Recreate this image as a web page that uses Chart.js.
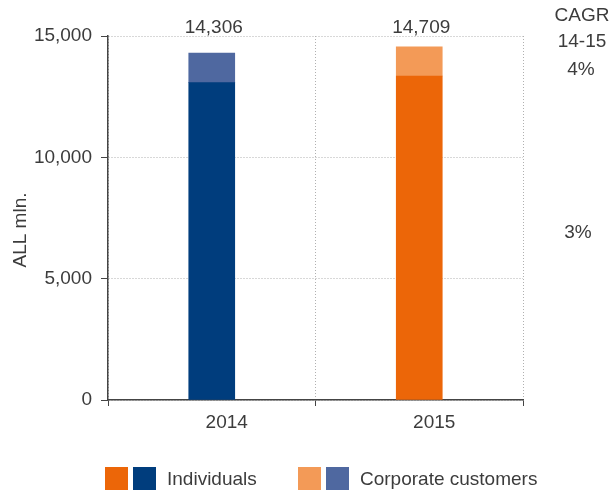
<!DOCTYPE html>
<html>
<head>
<meta charset="utf-8">
<script src="https://cdn.jsdelivr.net/npm/chart.js@4/dist/chart.umd.min.js"></script>
<style>
  html, body { margin: 0; padding: 0; background: #fff; }
  #wrap { width: 615px; height: 493px; position: relative; }
</style>
</head>
<body>
<div id="wrap"><canvas id="c" width="615" height="493"></canvas></div>
<script>
// ---- data ----
const years = ['2014', '2015'];
const individuals = [13076, 13350];
const corporate = [1225, 1200];
const totalLabels = ['14,306', '14,709'];
const yTicks = [0, 5000, 10000, 15000];
const cagrHeader = ['CAGR', '14-15'];
const cagrCorporate = '4%';
const cagrIndividuals = '3%';
const seriesNames = ['Individuals', 'Corporate customers'];

// ---- styles ----
const FONT = '"Liberation Sans", Arial, sans-serif';
const FS = 19;
const TEXT = '#3c3c3c';
const indColors = ['#003d7d', '#ec6608'];
const corpColors = ['#4f68a0', '#f39a57'];

const overlay = {
  id: 'overlay',
  afterDraw(chart) {
    const ctx = chart.ctx;
    ctx.save();
    ctx.fillStyle = TEXT;
    ctx.font = FS + 'px ' + FONT;
    // totals above bars
    ctx.textAlign = 'center';
    ctx.textBaseline = 'alphabetic';
    const meta = chart.getDatasetMeta(1);
    meta.data.forEach((bar, i) => {
      ctx.fillText(totalLabels[i], bar.x + 2, 33);
    });
    // CAGR column
    ctx.fillText(cagrHeader[0], 582, 21);
    ctx.fillText(cagrHeader[1], 582, 47);
    ctx.fillText(cagrCorporate, 581, 75);
    ctx.fillText(cagrIndividuals, 578, 238);
    // y axis title
    ctx.save();
    ctx.translate(26, 230);
    ctx.rotate(-Math.PI / 2);
    ctx.fillText('ALL mln.', 0, 0);
    ctx.restore();
    // legend
    ctx.textAlign = 'left';
    ctx.textBaseline = 'middle';
    const items = [
      {x: 105, colors: [indColors[1], indColors[0]], label: seriesNames[0]},
      {x: 298, colors: [corpColors[1], corpColors[0]], label: seriesNames[1]}
    ];
    items.forEach(it => {
      ctx.fillStyle = it.colors[0];
      ctx.fillRect(it.x, 467, 23, 23);
      ctx.fillStyle = it.colors[1];
      ctx.fillRect(it.x + 28, 467, 23, 23);
      ctx.fillStyle = TEXT;
      ctx.fillText(it.label, it.x + 62, 480);
    });
    ctx.restore();
  }
};

new Chart(document.getElementById('c'), {
  type: 'bar',
  data: {
    labels: years,
    datasets: [
      { label: seriesNames[0], data: individuals, backgroundColor: indColors, barThickness: 46 },
      { label: seriesNames[1], data: corporate, backgroundColor: corpColors, barThickness: 46 }
    ]
  },
  options: {
    responsive: false,
    animation: false,
    devicePixelRatio: 1,
    layout: { padding: { top: 36, right: 92, left: 0, bottom: 0 } },
    plugins: { legend: { display: false }, tooltip: { enabled: false } },
    scales: {
      x: {
        stacked: true,
        afterFit: s => { s.height = 93; },
        grid: { color: '#b0b0b0', lineWidth: 1, tickColor: '#444', tickLength: 6, offset: true },
        border: { display: true, color: '#444', width: 1.5, dash: [1, 2] },
        ticks: { color: TEXT, font: { family: FONT, size: FS }, padding: 5, labelOffset: 15 }
      },
      y: {
        stacked: true,
        min: 0, max: 15000,
        afterFit: s => { s.width = 108; },
        afterBuildTicks: s => { s.ticks = yTicks.map(v => ({ value: v })); },
        grid: { color: '#b0b0b0', lineWidth: 1, tickColor: '#444', tickLength: 7 },
        border: { display: true, color: '#444', width: 1.5, dash: [1, 2] },
        ticks: {
          color: TEXT, font: { family: FONT, size: FS }, padding: 9,
          callback: v => v.toLocaleString('en-US')
        }
      }
    }
  },
  plugins: [overlay]
});
</script>
</body>
</html>
